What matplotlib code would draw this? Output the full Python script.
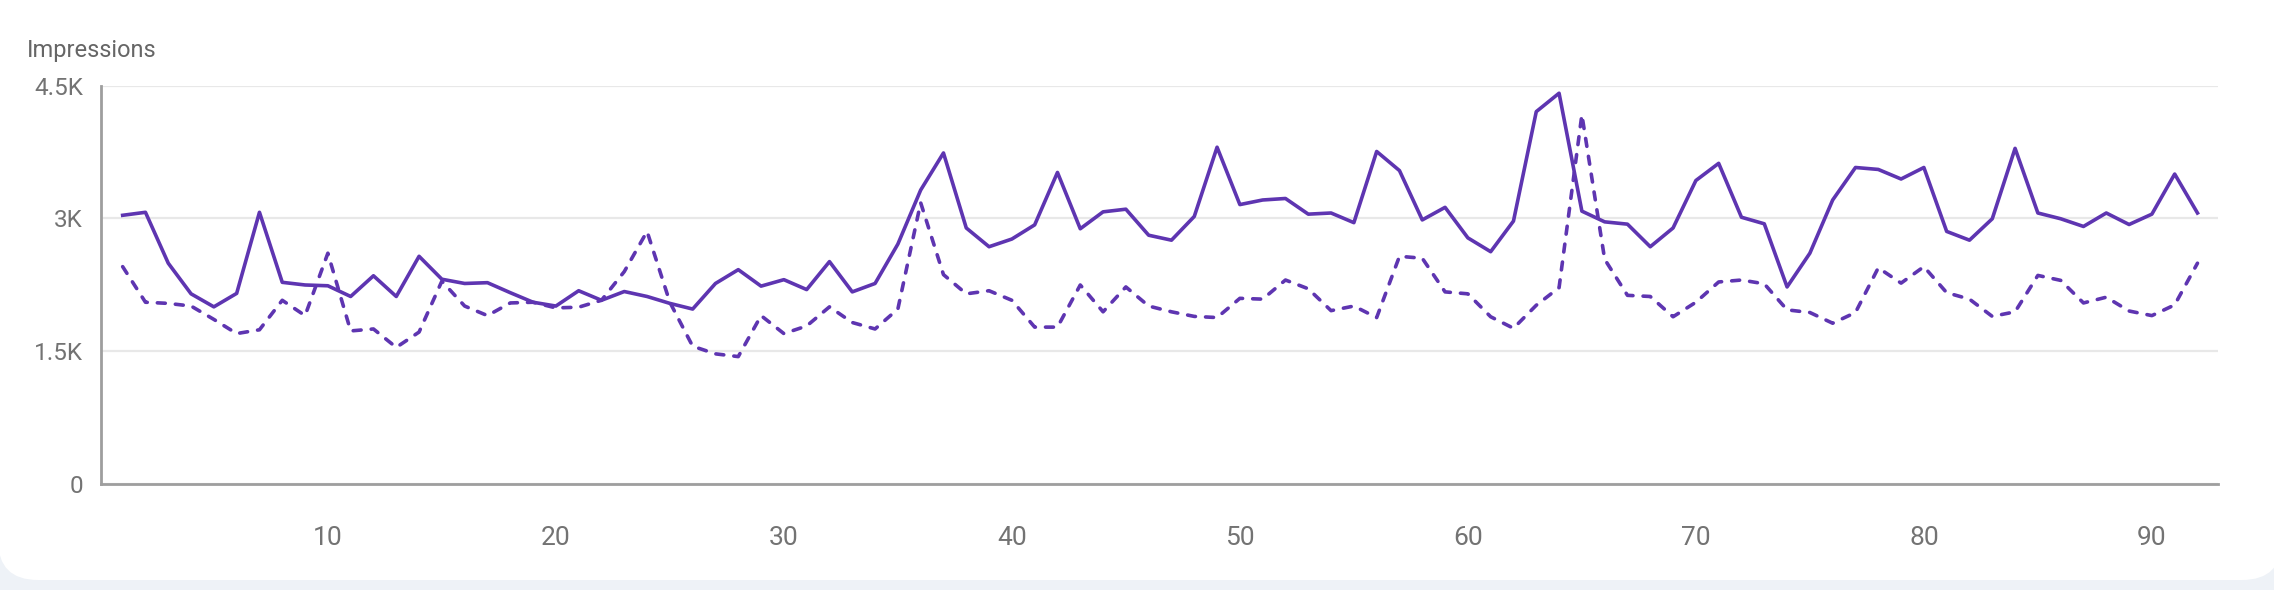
import numpy as np
import matplotlib.pyplot as plt
from matplotlib.patches import FancyBboxPatch

# 每天的曝光量：实线是本期，虚线是上期
days = list(range(1, 93))
current = [3035, 3069, 2494, 2148, 2001, 2153, 3069, 2278, 2248, 2239,
           2118, 2352, 2118, 2572, 2313, 2265, 2274, 2161, 2053, 2010,
           2183, 2075, 2174, 2118, 2040, 1976, 2265, 2421, 2235, 2308,
           2196, 2512, 2170, 2265, 2710, 3320, 3739, 2892, 2680, 2767,
           2927, 3519, 2883, 3074, 3104, 2810, 2754, 3022, 3804, 3156,
           3208, 3225, 3048, 3061, 2952, 3756, 3540, 2983, 3125, 2780,
           2624, 2970, 4206, 4414, 3082, 2961, 2935, 2680, 2892, 3428,
           3622, 3013, 2939, 2226, 2607, 3208, 3575, 3553, 3445, 3575,
           2853, 2754, 2996, 3791, 3061, 2996, 2909, 3061, 2931, 3048,
           3501, 3061]
previous = [2455, 2053, 2040, 2010, 1859, 1699, 1742, 2075, 1902, 2607,
            1729, 1751, 1543, 1716, 2291, 2010, 1902, 2045, 2053, 1989,
            1997, 2075, 2399, 2853, 2053, 1556, 1470, 1439, 1902, 1699,
            1785, 2001, 1824, 1751, 1976, 3177, 2365, 2148, 2183, 2075,
            1772, 1772, 2248, 1945, 2226, 2010, 1945, 1893, 1880, 2097,
            2088, 2304, 2205, 1958, 2010, 1880, 2572, 2550, 2170, 2148,
            1889, 1759, 2019, 2218, 4171, 2538, 2131, 2118, 1889, 2053,
            2282, 2304, 2261, 1967, 1937, 1816, 1937, 2442, 2269, 2455,
            2161, 2088, 1893, 1945, 2356, 2300, 2045, 2110, 1954, 1902,
            2023, 2494]
y_ticks = [0, 1500, 3000, 4500]
y_labels = ['0', '1.5K', '3K', '4.5K']
x_ticks = [10, 20, 30, 40, 50, 60, 70, 80, 90]

plt.rcParams['font.family'] = ['Roboto', 'DejaVu Sans']
line_color = '#5e35b1'

fig = plt.figure(figsize=(22.74, 5.9), dpi=100)
fig.patch.set_facecolor('#eef2f7')

# 白色卡片背景（像素坐标）
bg = fig.add_axes([0, 0, 1, 1])
bg.set_xlim(0, 2274)
bg.set_ylim(590, 0)
bg.axis('off')
bg.add_patch(FancyBboxPatch((-2, -80), 2284, 660,
                            boxstyle='round,pad=0,rounding_size=40',
                            facecolor='white', edgecolor='none'))

ax = fig.add_axes([101 / 2274, 1 - 484 / 590, (2218 - 101) / 2274, (484 - 85.6) / 590])
ax.set_facecolor('none')
ax.plot(days, current, color=line_color, lw=2.6)
ax.plot(days, previous, color=line_color, lw=2.6, ls=(0, (2.2, 2.8)),
        dash_capstyle='round')

ax.set_xlim(0.05, 92.9)
ax.set_ylim(0, 4500)
ax.set_yticks(y_ticks)
ax.set_yticklabels(y_labels)
ax.set_xticks(x_ticks)
ax.grid(axis='y', color='#e8e8e8', lw=1.6)
ax.set_axisbelow(True)
for s in ['top', 'right']:
    ax.spines[s].set_visible(False)
for s in ['left', 'bottom']:
    ax.spines[s].set_color('#9e9e9e')
    ax.spines[s].set_linewidth(2)
ax.tick_params(axis='y', length=0, pad=13, labelsize=17.5, labelcolor='#737373')
ax.tick_params(axis='x', length=0, pad=30, labelsize=19, labelcolor='#737373')

fig.text(27 / 2274, 1 - 50 / 590, 'Impressions', fontsize=17, color='#666666',
         ha='left', va='center')

plt.savefig('out.png', dpi=100, facecolor=fig.get_facecolor())
